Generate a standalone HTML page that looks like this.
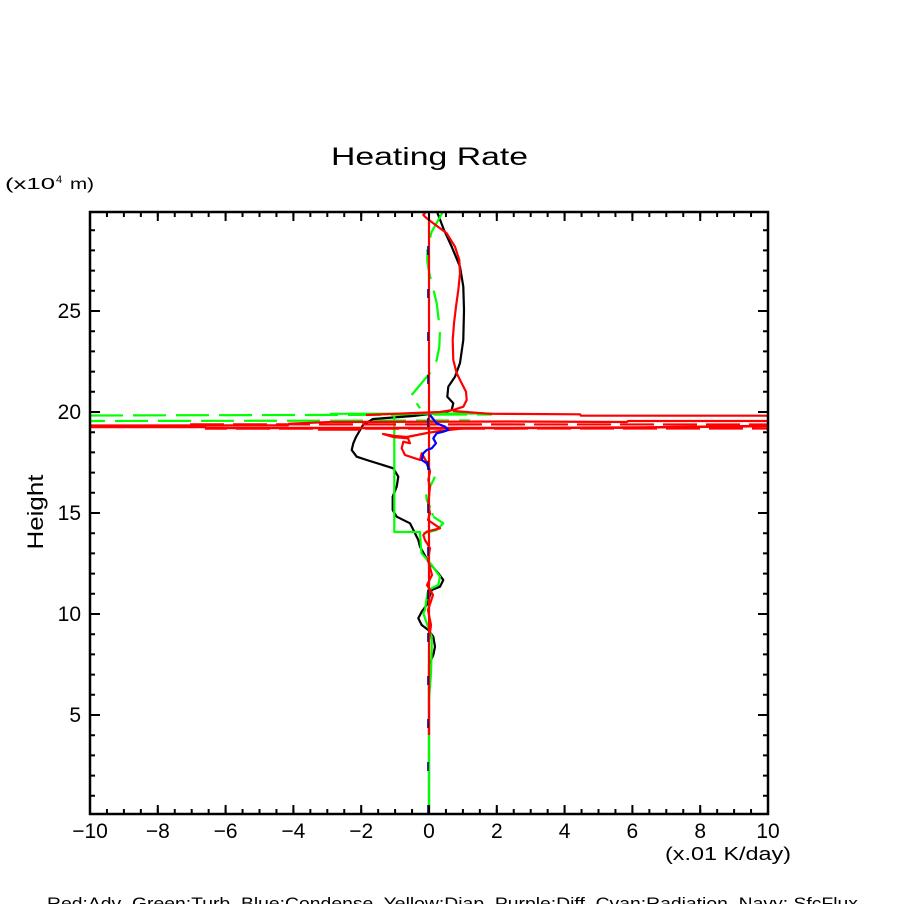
<!DOCTYPE html>
<html>
<head>
<meta charset="utf-8">
<style>
html,body{margin:0;padding:0;background:#fff;}
svg{display:block;}
text{font-family:"Liberation Sans",sans-serif;fill:#000;}
</style>
</head>
<body>
<svg width="904" height="904" viewBox="0 0 904 904" xmlns="http://www.w3.org/2000/svg">
<rect x="0" y="0" width="904" height="904" fill="#fff"/>
<defs>
<clipPath id="pa"><rect x="90" y="212" width="678" height="602"/></clipPath>
</defs>

<g clip-path="url(#pa)" fill="none" stroke-linejoin="round" stroke-linecap="butt">
  <!-- green dashed horizontals -->
  <line x1="90" y1="415.5" x2="492" y2="414.5" stroke="#00ff00" stroke-width="2.2" stroke-dasharray="33 10"/>
  <line x1="90" y1="421" x2="470" y2="420.5" stroke="#00ff00" stroke-width="2.2" stroke-dasharray="33 10" stroke-dashoffset="18"/>

  <!-- black curve -->
  <polyline stroke="#000" stroke-width="2.2" points="436.7,211 444,230 451.7,246.7 460,266.7 463.3,286.7 464,310 463.3,340 460,363 455,376.7 448.3,386.7 447.3,396.7 453.3,403.3 451.7,410 446,412 413,416 373,419 363,425 356,437 353.3,443.3 351.7,450 356.7,456.7 366.7,460 393.3,468.3 398.3,476.7 396.7,486.7 392.7,496.7 392.7,510 396.7,516.7 410,523.3 415,533.3 418.3,540 420,546.7 428.3,561.7 438.3,573.3 443.3,580 440,586.7 431.7,590 426.7,605 421.7,611.7 418.3,618.3 421.7,625 428.3,630 433.3,636.7 435,646.7 433.3,655 429,665 429,814"/>

  <!-- green dashed curves -->
  <polyline stroke="#00ff00" stroke-width="2.2" stroke-dasharray="30 12" points="443.3,211 438.3,220 431.7,231.7 427.3,248.3 427.3,261.7 429.3,273.3 432.7,286.7 436.7,303.3 438.3,316.7 440,330 439.3,346.7 436.7,360 431,371.7 420,385 411.7,395"/>
  <polyline stroke="#00ff00" stroke-width="2.2" points="416.7,403.3 420,408.3"/>
  <polyline stroke="#00ff00" stroke-width="2.2" stroke-dasharray="14 6" points="435,476.7 430,486.7 426,493 426.7,500 430,506.7 433,516"/>

  <!-- green solid -->
  <polyline stroke="#00ff00" stroke-width="2.2" points="330,413.8 492,413.5"/>
  <polyline stroke="#00ff00" stroke-width="2.2" points="394.3,416 394.3,532 420,532 421,548 421.7,553.3 431.7,565 440,576.7 438.3,585 428.3,590 426.7,598 425,610 423.3,613 426.7,623.3 431.7,636.7 431.7,650 431,673 430,686.7 429,700"/>
  <polyline stroke="#00ff00" stroke-width="2.2" points="423.3,533.3 436.7,530 443.3,523.3 433.3,516.7"/>
  <line x1="429" y1="650" x2="429" y2="814" stroke="#00ff00" stroke-width="2.2"/>

  <!-- red vertical -->
  <line x1="429" y1="212" x2="429" y2="735" stroke="#ff0000" stroke-width="2.2"/>

  <!-- red upper curve -->
  <polyline stroke="#ff0000" stroke-width="2.2" points="426.7,211 423.3,215 426.7,218.3 433.3,223.3 446.7,233.3 455,246.7 459.3,260 460,273.3 458.3,290 456,306.7 454,323.3 452.7,340 453.3,360 456.7,373.3 461.7,383.3 466,391.7 466.7,400 463.3,406.7 453.3,410 440,412 366,415 "/>
  <polyline stroke="#ff0000" stroke-width="2.2" points="453,411 490,413.8 580,414.3 581,415.7 768,415.7"/>

  <!-- red horizontals -->
  <polyline stroke="#ff0000" stroke-width="2.2" points="90,425.5 288,425.3 289,423.7 330,422 510,421.5 627,422 628,421 768,421"/>
  <polyline stroke="#ff0000" stroke-width="2.6" points="90,427 205,427 206,428 510,428 640,427.5 768,426"/>
  <line x1="318" y1="429.7" x2="360" y2="429.7" stroke="#ff0000" stroke-width="2.2"/>
  <line x1="190" y1="424.3" x2="768" y2="424.5" stroke="#ff0000" stroke-width="2.2" stroke-dasharray="34 9"/>
  <line x1="205" y1="428.7" x2="768" y2="428.5" stroke="#ff0000" stroke-width="2.2" stroke-dasharray="34 9" stroke-dashoffset="12"/>

  <!-- red lower curve -->
  <polyline stroke="#ff0000" stroke-width="2.2" points="466,428 440,431 427,433 407,437 395,436 383,434 393,437 408,438.3 410,443.3 403.3,441.7 401.7,448.3 405,455 415,458.3 420,460 421.7,453.3 428.3,465 430,471.7 428.3,480 430,486.7 428.3,503.3 430,513.3 428,520 440,528.3 426.7,531.7 423.3,535 425,540 430,548.3 428,560 432,575 427,585 433,595 428,610 431,625 429,640"/>

  <!-- blue -->
  <polyline stroke="#0000ff" stroke-width="2.2" points="430,415 436.7,423.3 445,426.7 448.3,430 443.3,431.7 436.7,433.3 433.3,438.3 436,443.3 431.7,448.3 426.7,450 423.3,453.3 421.7,460 426.7,463.3 429.3,470"/>

  <!-- navy dashed -->
  <line x1="428" y1="814" x2="428" y2="212" stroke="#000080" stroke-width="1.6" stroke-dasharray="9 34"/>
</g>

<!-- frame -->
<rect x="90" y="212" width="678" height="602" fill="none" stroke="#000" stroke-width="2.5"/>

<!-- ticks -->
<g stroke="#000" fill="none">
  <line x1="89" y1="811.5" x2="770" y2="811.5" stroke-width="5" stroke-dasharray="2 14.95"/>
  <line x1="89" y1="809.5" x2="770" y2="809.5" stroke-width="9" stroke-dasharray="2 65.8"/>
  <line x1="89" y1="214.5" x2="770" y2="214.5" stroke-width="5" stroke-dasharray="2 14.95"/>
  <line x1="89" y1="216.5" x2="770" y2="216.5" stroke-width="9" stroke-dasharray="2 65.8"/>
  <line x1="92.5" y1="796.8" x2="92.5" y2="212" stroke-width="5" stroke-dasharray="2 18.2"/>
  <line x1="95" y1="716" x2="95" y2="212" stroke-width="10" stroke-dasharray="2 99"/>
  <line x1="765.5" y1="796.8" x2="765.5" y2="212" stroke-width="5" stroke-dasharray="2 18.2"/>
  <line x1="763" y1="716" x2="763" y2="212" stroke-width="10" stroke-dasharray="2 99"/>
</g>

<!-- title -->
<text x="331" y="165" font-size="25" textLength="197" lengthAdjust="spacingAndGlyphs">Heating Rate</text>

<!-- y unit -->
<text x="5" y="189" font-size="16" textLength="50" lengthAdjust="spacingAndGlyphs">(x10</text>
<text x="56" y="183" font-size="11">4</text>
<text x="70" y="189" font-size="16" textLength="24" lengthAdjust="spacingAndGlyphs">m)</text>

<!-- y labels -->
<g font-size="21" text-anchor="end">
  <text x="81" y="318">25</text>
  <text x="81" y="419">20</text>
  <text x="81" y="520">15</text>
  <text x="81" y="621">10</text>
  <text x="81" y="722">5</text>
</g>

<!-- x labels -->
<g font-size="21" text-anchor="middle">
  <text x="90" y="838">−10</text>
  <text x="157.8" y="838">−8</text>
  <text x="225.6" y="838">−6</text>
  <text x="293.4" y="838">−4</text>
  <text x="361.2" y="838">−2</text>
  <text x="429" y="838">0</text>
  <text x="496.8" y="838">2</text>
  <text x="564.6" y="838">4</text>
  <text x="632.4" y="838">6</text>
  <text x="700.2" y="838">8</text>
  <text x="768" y="838">10</text>
</g>

<text x="665" y="860" font-size="18" textLength="126" lengthAdjust="spacingAndGlyphs">(x.01 K/day)</text>

<!-- y title -->
<text transform="translate(43,512) rotate(-90)" x="0" y="0" font-size="22" text-anchor="middle" textLength="75" lengthAdjust="spacingAndGlyphs">Height</text>

<!-- legend (clipped at bottom) -->
<text x="47" y="909" font-size="17" textLength="811" lengthAdjust="spacingAndGlyphs" xml:space="preserve">Red:Adv  Green:Turb  Blue:Condense  Yellow:Diap  Purple:Diff  Cyan:Radiation  Navy: SfcFlux</text>
</svg>
</body>
</html>
